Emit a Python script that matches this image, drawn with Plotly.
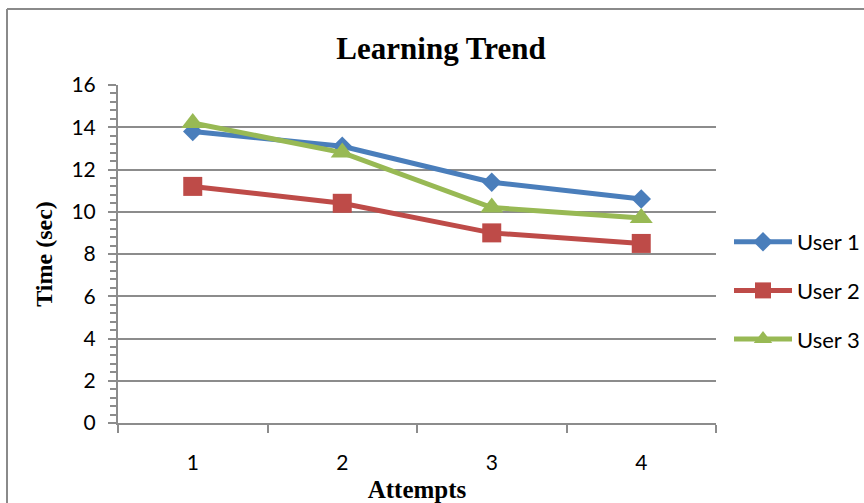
import plotly.graph_objects as go

# Learning trend: completion time per attempt for three users
attempts = ["1", "2", "3", "4"]
user1 = [13.8, 13.1, 11.4, 10.6]
user2 = [11.2, 10.4, 9.0, 8.5]
user3 = [14.2, 12.8, 10.2, 9.7]
series_names = ["User 1", "User 2", "User 3"]
y_ticks = [0, 2, 4, 6, 8, 10, 12, 14, 16]

W, H = 864, 503
ML, MR, MT, MB = 118, 148, 85, 80
PW, PH = W - ML - MR, H - MT - MB

def px(x):
    return (x - ML) / PW

def py(y):
    return (H - MB - y) / PH

colors = ["#4A7EBB", "#BE4B48", "#98B954"]
symbols = ["diamond", "square", "triangle-up"]
sizes = [15, 19, 20]

fig = go.Figure()
for i, (name, vals) in enumerate(zip(series_names, [user1, user2, user3])):
    fig.add_trace(go.Scatter(
        x=attempts, y=vals, name=name, mode="lines+markers",
        legendgroup=name,
        line=dict(color=colors[i], width=5),
        marker=dict(symbol=symbols[i], size=sizes[i], color=colors[i],
                    line=dict(width=0)),
    ))

grid = "#8C8C8C"
fig.update_layout(
    width=W, height=H,
    margin=dict(l=ML, r=MR, t=MT, b=MB, autoexpand=False),
    paper_bgcolor="white", plot_bgcolor="white",
    title=dict(text="<b>Learning Trend</b>", x=px(441), xanchor="center",
               xref="paper", y=1 - 48 / H, yanchor="middle",
               font=dict(family="Liberation Serif", size=31, color="black")),
    font=dict(family="Lato", size=20, color="black"),
    showlegend=True,
    legend=dict(x=px(729), y=py(221), xanchor="left", yanchor="top",
                font=dict(family="Lato", size=22, color="black"),
                tracegroupgap=17, itemwidth=58, bgcolor="rgba(0,0,0,0)"),
    xaxis=dict(
        type="category", range=[-0.5, 3.5], automargin=False,
        showline=True, linecolor=grid, linewidth=2,
        ticks="outside", tickson="boundaries", ticklen=8, tickwidth=2,
        tickcolor=grid, showgrid=False, ticklabelstandoff=20,
        tickfont=dict(family="Lato", size=21),
        title=dict(text="<b>Attempts</b>", standoff=9,
                   font=dict(family="Liberation Serif", size=25)),
    ),
    yaxis=dict(
        range=[0, 16], tickvals=y_ticks, automargin=False,
        showline=True, linecolor=grid, linewidth=2,
        ticks="outside", ticklen=8, tickwidth=2, tickcolor=grid,
        showgrid=True, gridcolor=grid, gridwidth=2,
        zeroline=False, ticklabelstandoff=8,
        minor=dict(dtick=0.4, ticks="outside", ticklen=6, tickcolor=grid,
                   tickwidth=1.5, showgrid=False),
        tickfont=dict(family="Lato", size=21),
        title=dict(text="<b>Time (sec)</b>", standoff=12,
                   font=dict(family="Liberation Serif", size=24)),
    ),
)

# Chart frame along the top and left edges
frame = "#8A8A8A"
fig.add_shape(type="line", xref="paper", yref="paper",
              x0=px(7), x1=px(W), y0=py(9), y1=py(9),
              line=dict(color=frame, width=2))
fig.add_shape(type="line", xref="paper", yref="paper",
              x0=px(7), x1=px(7), y0=py(9), y1=py(H),
              line=dict(color=frame, width=2))

fig.write_html("out.html")
